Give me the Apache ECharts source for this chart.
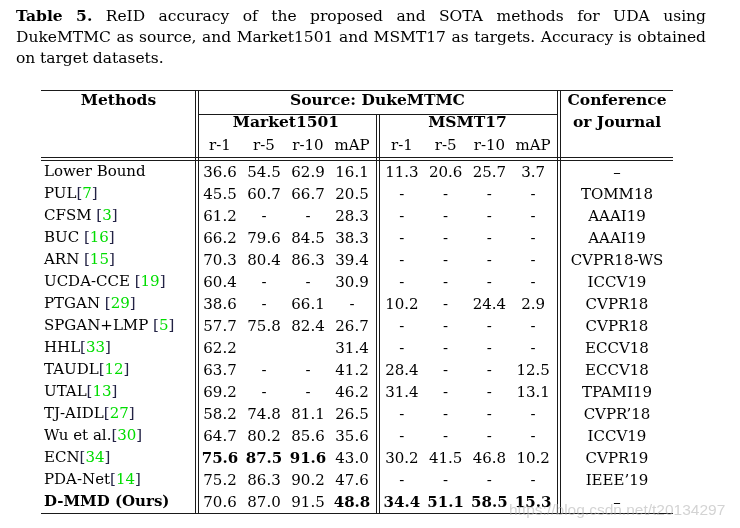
<!DOCTYPE html>
<html><head><meta charset="utf-8">
<script src="https://cdn.jsdelivr.net/npm/echarts@6/dist/echarts.min.js"></script>
<style>html,body{margin:0;padding:0;background:#fff}#c{width:740px;height:528px}</style>
</head><body><div id="c"></div>
<script>
// ---------- data ----------
const methods = ['Lower Bound','PUL','CFSM','BUC','ARN','UCDA-CCE','PTGAN','SPGAN+LMP','HHL','TAUDL','UTAL','TJ-AIDL','Wu et al.','ECN','PDA-Net','D-MMD (Ours)'];
const refs = ['','7','3','16','15','19','29','5','33','12','13','27','30','34','14',''];
const refSpaced = [false,false,true,true,true,true,true,true,false,false,false,false,false,false,false,false];
const metrics = ['r-1','r-5','r-10','mAP'];
// null = "-" ; '' = empty cell
const marketR1  = [36.6,45.5,61.2,66.2,70.3,60.4,38.6,57.7,62.2,63.7,69.2,58.2,64.7,75.6,75.2,70.6];
const marketR5  = [54.5,60.7,null,79.6,80.4,null,null,75.8,'',null,null,74.8,80.2,87.5,86.3,87.0];
const marketR10 = [62.9,66.7,null,84.5,86.3,null,66.1,82.4,'',null,null,81.1,85.6,91.6,90.2,91.5];
const marketMAP = [16.1,20.5,28.3,38.3,39.4,30.9,null,26.7,31.4,41.2,46.2,26.5,35.6,43.0,47.6,48.8];
const msmtR1  = [11.3,null,null,null,null,null,10.2,null,null,28.4,31.4,null,null,30.2,null,34.4];
const msmtR5  = [20.6,null,null,null,null,null,null,null,null,null,null,null,null,41.5,null,51.1];
const msmtR10 = [25.7,null,null,null,null,null,24.4,null,null,null,null,null,null,46.8,null,58.5];
const msmtMAP = [3.7,null,null,null,null,null,2.9,null,null,12.5,13.1,null,null,10.2,null,15.3];
const venues = ['–','TOMM18','AAAI19','AAAI19','CVPR18-WS','ICCV19','CVPR18','CVPR18','ECCV18','ECCV18','TPAMI19','CVPR’18','ICCV19','CVPR19','IEEE’19','–'];
const boldRows = ['D-MMD (Ours)'];
const captionLabel = 'Table 5.';
const captionLines = [
  'ReID accuracy of the proposed and SOTA methods for UDA using',
  'DukeMTMC as source, and Market1501 and MSMT17 as targets. Accuracy is obtained',
  'on target datasets.'
];
const headMethods = 'Methods';
const headSource = 'Source: DukeMTMC';
const headMarket = 'Market1501';
const headMsmt = 'MSMT17';
const headVenue = 'Conference\nor Journal';
const watermark = 'https://blog.csdn.net/t20134297';

// ---------- style ----------
const FONT = '"DejaVu Serif", serif';
const FS = 15;
const INK = '#000';
const GREEN = '#00dd00';
const TOP = 161, HEIGHT = 352;

function cellText(v){ if (v === null) return '-'; if (v === '') return ''; return v.toFixed(1); }
function bestIdx(arr){ let m = -Infinity, k = -1; arr.forEach((v,i)=>{ if (typeof v === 'number' && v > m){ m = v; k = i; } }); return k; }
function blockData(cols){
  const out = [];
  cols.forEach((arr,c)=>{
    const b = bestIdx(arr);
    arr.forEach((v,r)=>{
      const item = { value:[c,r], txt: cellText(v) };
      if (r === b) item.label = { fontWeight:'bold' };
      out.push(item);
    });
  });
  return out;
}
const venueData = venues.map((v,r)=>({ value:[0,r], txt:v }));

const cellLabel = { show:true, position:'inside', formatter:p=>p.data.txt, fontFamily:FONT, fontSize:FS,
  color:INK, opacity:1, textBorderWidth:0, textBorderColor:'transparent', textShadowBlur:0, offset:[0,1] };
function cellSeries(idx, data){
  return { type:'scatter', xAxisIndex:idx, yAxisIndex:idx, symbolSize:1, itemStyle:{color:'#fff', opacity:1},
           label:cellLabel, data, silent:true, animation:false, z:5 };
}
function hiddenY(idx){ return { type:'category', gridIndex:idx, data:methods, inverse:true, show:false }; }
function topX(idx, cats, name, gap, showLabels){
  return { type:'category', gridIndex:idx, data:cats, position:'top',
    axisLine:{show:false}, axisTick:{show:false}, splitLine:{show:false},
    axisLabel:{ show:showLabels, interval:0, margin:15, verticalAlign:'middle', fontFamily:FONT, fontSize:FS, color:INK },
    name, nameLocation:'middle', nameGap:gap,
    nameTextStyle:{ fontFamily:FONT, fontSize:15.5, fontWeight:'bold', color:INK, verticalAlign:'middle', lineHeight:22 } };
}

// ---------- caption layout (justified) ----------
function captionGraphics(){
  const ctx = document.createElement('canvas').getContext('2d');
  const X0 = 16, X1 = 706, Y0 = 17, LH = 21;
  const lines = captionLines.map((s,i)=>{
    const w = s.split(' ').map(t=>({t, b:false}));
    return i === 0 ? captionLabel.split(' ').map(t=>({t, b:true})).concat(w) : w;
  });
  let fs = 15.5;
  const fontOf = (b,f)=>(b ? 'bold ' : '') + f + 'px ' + FONT;
  function widths(f){ return lines.map(ws=>ws.map(w=>{ ctx.font = fontOf(w.b,f); return ctx.measureText(w.t).width; })); }
  let W;
  for (;;){
    W = widths(fs);
    const ok = lines.every((ws,i)=>{ const tot = W[i].reduce((a,b)=>a+b,0); return tot + (ws.length-1)*fs*0.22 <= X1 - X0; });
    if (ok || fs < 11) break;
    fs -= 0.25;
  }
  const els = [];
  lines.forEach((ws,i)=>{
    const tot = W[i].reduce((a,b)=>a+b,0);
    const justify = i < lines.length - 1;
    const gap = justify ? (X1 - X0 - tot) / (ws.length - 1) : fs * 0.3;
    let x = X0;
    ws.forEach((w,j)=>{
      els.push({ type:'text', silent:true, style:{ text:w.t, x, y:Y0 + i*LH, font:fontOf(w.b,fs), fill:INK, textVerticalAlign:'middle', verticalAlign:'middle' } });
      x += W[i][j] + gap;
    });
  });
  return els;
}

// ---------- rules ----------
function hl(y, x1, x2){ return { type:'line', silent:true, shape:{x1, y1:y, x2, y2:y}, style:{stroke:'#1a1a1a', lineWidth:1} }; }
function vl(x, y1, y2){ return { type:'line', silent:true, shape:{x1:x, y1, x2:x, y2}, style:{stroke:'#1a1a1a', lineWidth:1} }; }
const rules = [
  hl(90.5, 41, 673), hl(114.5, 198, 557), hl(157.5, 41, 673), hl(160.5, 41, 673), hl(513.5, 41, 673),
  vl(195.5, 90, 514), vl(198.5, 90, 514), vl(376.5, 114, 514), vl(379.5, 114, 514), vl(557.5, 90, 514), vl(560.5, 90, 514)
];

const chart = echarts.init(document.getElementById('c'), null, { renderer:'canvas' });

const rich = {
  n:{ fontFamily:FONT, fontSize:FS, color:INK },
  nb:{ fontFamily:FONT, fontSize:FS, color:INK, fontWeight:'bold' },
  br:{ fontFamily:FONT, fontSize:FS, color:'#222244' },
  g:{ fontFamily:FONT, fontSize:FS, color:GREEN }
};

chart.setOption({
  animation:false,
  backgroundColor:'#fff',
  grid:[
    { left:41, top:TOP, width:155, height:HEIGHT },
    { left:198, top:TOP, width:176, height:HEIGHT },
    { left:380, top:TOP, width:175, height:HEIGHT },
    { left:561, top:TOP, width:112, height:HEIGHT }
  ],
  xAxis:[
    topX(0, [headMethods], headMethods, 60, false),
    topX(1, metrics, headMarket, 38, true),
    topX(2, metrics, headMsmt, 38, true),
    topX(3, [''], headVenue, 49, false)
  ],
  yAxis:[
    { type:'category', gridIndex:0, data:methods, inverse:true,
      axisLine:{show:false}, axisTick:{show:false}, splitLine:{show:false},
      axisLabel:{ interval:0, margin:-3, align:'left', verticalAlign:'middle', rich,
        formatter:(v,i)=>{
          const style = boldRows.includes(v) ? 'nb' : 'n';
          const r = refs[i];
          const name = '{' + style + '|' + v + (r && refSpaced[i] ? ' ' : '') + '}';
          return r ? name + '{br|[}{g|' + r + '}{br|]}' : name;
        } } },
    hiddenY(1), hiddenY(2), hiddenY(3)
  ],
  series:[
    cellSeries(1, blockData([marketR1, marketR5, marketR10, marketMAP])),
    cellSeries(2, blockData([msmtR1, msmtR5, msmtR10, msmtMAP])),
    cellSeries(3, venueData)
  ],
  graphic:[
    ...captionGraphics(),
    ...rules,
    { type:'text', silent:true, style:{ text:headSource, x:377.5, y:101, font:'bold 15.5px ' + FONT, fill:INK, textAlign:'center', align:'center', textVerticalAlign:'middle', verticalAlign:'middle' } },
    { type:'text', silent:true, z:100, style:{ text:watermark, x:509, y:511, font:'15.5px "Liberation Sans", Arial, sans-serif', fill:'rgba(175,175,175,0.55)', textVerticalAlign:'middle', verticalAlign:'middle' } }
  ]
});
</script>
</body></html>
